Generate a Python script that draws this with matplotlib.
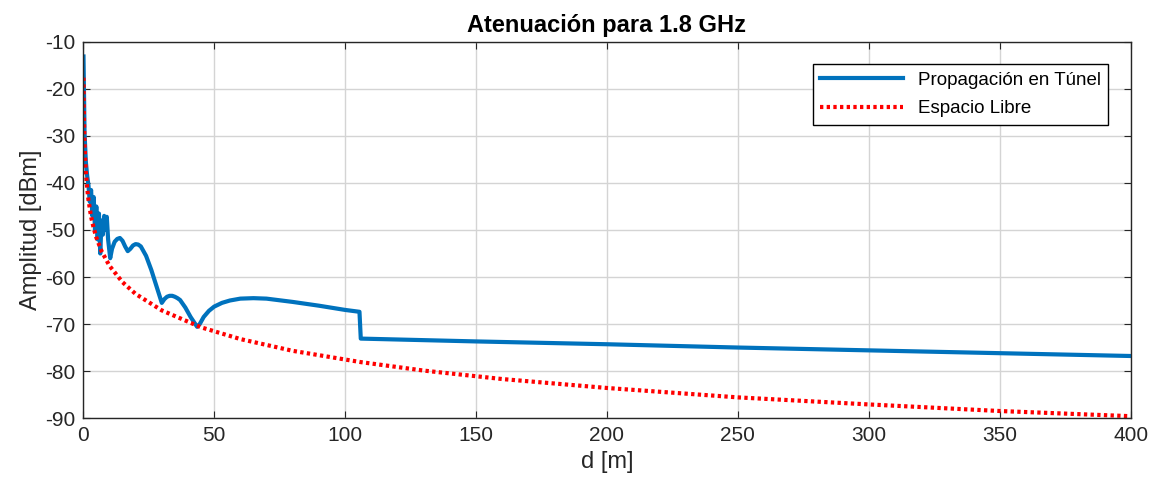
#!/usr/bin/env python3

import numpy as np
import matplotlib.pyplot as plt

plt.rcParams['font.family'] = ['Liberation Sans', 'DejaVu Sans']
plt.rcParams['axes.unicode_minus'] = False

# distance [m] and received amplitude [dBm]
d_tunel = [0.1, 0.5, 1, 1.5, 2, 2.5, 3, 3.5, 4, 4.5, 5, 5.5, 6, 6.5, 7, 7.5, 8,
           8.5, 9, 9.5, 10.3, 11, 12, 13, 14, 15, 16, 17, 18, 19, 20, 21, 22,
           24, 26, 28, 30, 31, 32, 33, 34, 35, 36, 37, 39, 41, 43.5, 44.5, 46,
           48, 50, 53, 56, 60, 65, 70, 80, 90, 100, 105.5, 106, 150, 200, 250,
           300, 350, 400]
a_tunel = [-13.1, -29.4, -35.5, -38.5, -40.5, -44, -41.5, -47, -43, -50, -45,
           -52, -46.5, -55, -48, -51, -47, -50, -47.2, -52, -56, -54, -52.5,
           -51.9, -51.7, -52.3, -53.5, -54.5, -54, -53.3, -53, -53.1, -53.5,
           -55.5, -58.5, -62, -65.5, -64.7, -64.2, -64, -64, -64.2, -64.5,
           -64.9, -66.5, -68.5, -70.6, -70, -68.5, -67.2, -66.3, -65.5, -65,
           -64.6, -64.5, -64.6, -65.3, -66.1, -67, -67.4, -73.1, -73.7, -74.3,
           -75, -75.6, -76.2, -76.8]

d_libre = [0.1, 0.2, 0.3, 0.5, 0.7, 1, 1.5, 2, 3, 4, 5, 7, 10, 15, 20, 30, 45,
           60, 80, 106, 130, 160, 200, 250, 300, 350, 400]
a_libre = [-17.6, -23.6, -27.1, -31.6, -34.5, -37.6, -41.1, -43.6, -47.2,
           -49.6, -51.6, -54.5, -57.6, -61.1, -63.6, -67.1, -70.7, -73.2,
           -75.7, -78.1, -79.9, -81.7, -83.6, -85.6, -87.1, -88.5, -89.6]

fig = plt.figure(figsize=(11.56, 4.93), dpi=100)
ax = fig.add_axes([0.072, 0.152, 0.906, 0.763])

ax.plot(d_tunel, a_tunel, color='#0072BD', lw=3, label='Propagación en Túnel')
ax.plot(d_libre, a_libre, color='red', lw=3, ls=(0, (0.8, 0.8)),
        label='Espacio Libre')

ax.set_xlim(0, 400)
ax.set_ylim(-90, -10)
ax.set_xticks(np.arange(0, 401, 50))
ax.set_yticks(np.arange(-90, -9, 10))
ax.tick_params(direction='in', labelsize=15, length=5, top=True, right=True,
               colors='#262626', pad=6)
ax.grid(True, color='#d4d4d4', lw=1)
for s in ax.spines.values():
    s.set_color('#262626')
    s.set_linewidth(1)

ax.set_xlabel('d [m]', fontsize=17, color='#262626', labelpad=4)
ax.set_ylabel('Amplitud [dBm]', fontsize=17, color='#262626', labelpad=2)
ax.set_title('Atenuación para 1.8 GHz', fontsize=17, fontweight='bold', pad=7)

leg = ax.legend(loc='upper right', fontsize=13.5, fancybox=False,
                edgecolor='black', framealpha=1, handlelength=4.4,
                borderaxespad=1.2, labelspacing=0.6)
leg.get_frame().set_linewidth(1)

fig.savefig('out.png', dpi=100)
